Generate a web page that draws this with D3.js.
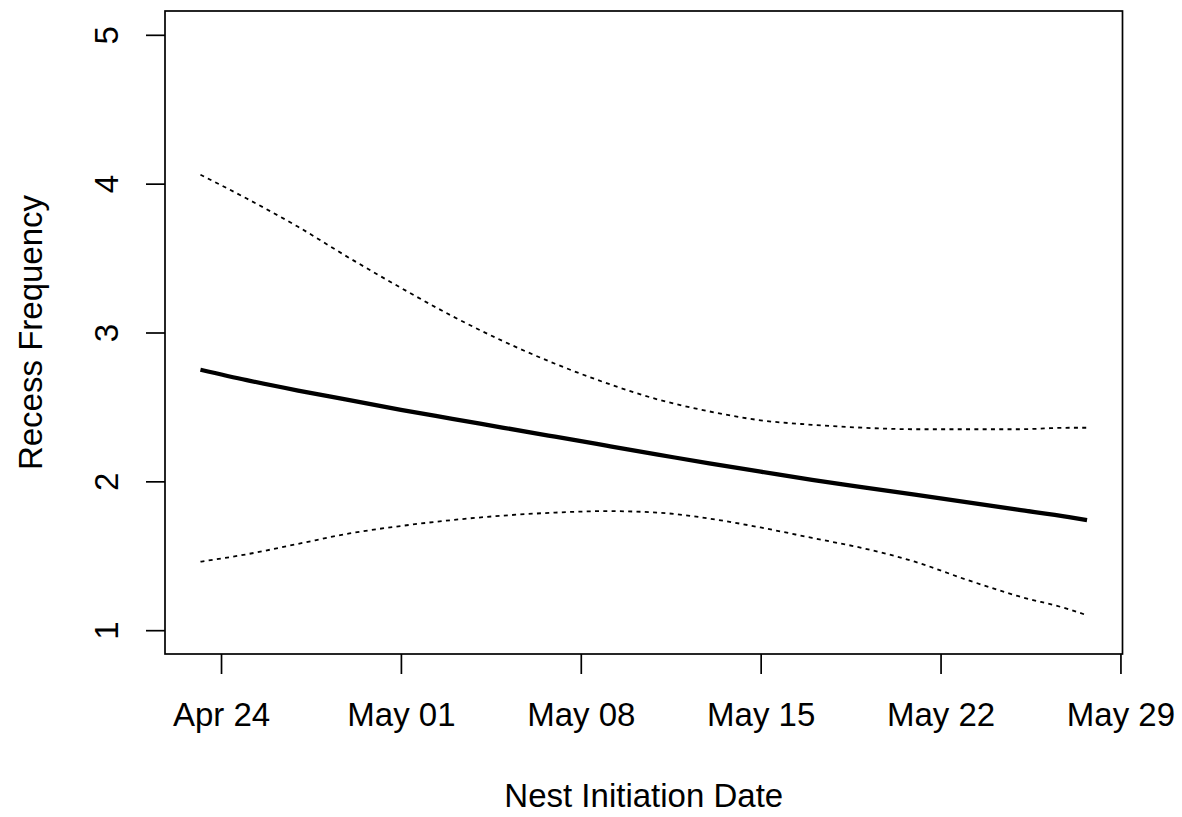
<!DOCTYPE html>
<html>
<head>
<meta charset="utf-8">
<script src="https://cdn.jsdelivr.net/npm/d3@7"></script>
<style>
  body { margin: 0; background: #fff; }
  svg text { font-family: "Liberation Sans", Arial, sans-serif; fill: #000; }
</style>
</head>
<body>
<svg id="chart" width="1182" height="817"></svg>
<script>
// Days after Apr 24 at which the model curve was evaluated
const dayOffsets = [-0.8, 1, 3, 5, 7, 9, 11, 13, 15, 17, 19, 21, 23, 25, 27, 29, 31, 33, 33.7];
// Predicted recess frequency and its confidence band
const fitted  = [2.75, 2.68, 2.61, 2.545, 2.48, 2.42, 2.36, 2.30, 2.24, 2.18, 2.12, 2.065, 2.01, 1.96, 1.91, 1.86, 1.81, 1.76, 1.74];
const upperCI = [4.06, 3.90, 3.71, 3.50, 3.30, 3.11, 2.94, 2.79, 2.66, 2.55, 2.47, 2.41, 2.38, 2.36, 2.35, 2.35, 2.35, 2.36, 2.36];
const lowerCI = [1.46, 1.51, 1.58, 1.65, 1.70, 1.74, 1.77, 1.79, 1.80, 1.79, 1.75, 1.69, 1.62, 1.55, 1.46, 1.34, 1.23, 1.14, 1.10];
// Axis ticks
const xTickDays = [0, 7, 14, 21, 28, 35];
const xTickLabels = ["Apr 24", "May 01", "May 08", "May 15", "May 22", "May 29"];
const yTicks = [1, 2, 3, 4, 5];
const yLimits = [1, 5];

const DAY = 86400000;
const origin = Date.UTC(2016, 3, 24);
const toDate = d => new Date(origin + d * DAY);

const box = { left: 165, right: 1122.5, top: 11, bottom: 654 };
const FONT = 33;

// Axis limits padded by 4% on each side, as in base graphics
const pad = ([a, b]) => [a - 0.04 * (b - a), b + 0.04 * (b - a)];
const xExt = pad(d3.extent(dayOffsets));
const yExt = pad(yLimits);

const x = d3.scaleUtc().domain(xExt.map(toDate)).range([box.left, box.right]);
const y = d3.scaleLinear().domain(yExt).range([box.bottom, box.top]);

const svg = d3.select("#chart");

const rows = dayOffsets.map((d, i) => ({
  date: toDate(d), fit: fitted[i], hi: upperCI[i], lo: lowerCI[i]
}));

// Confidence limits (dotted) and fitted curve (thick)
const lineOf = key => d3.line().curve(d3.curveMonotoneX).x(d => x(d.date)).y(d => y(d[key]));

svg.append("g").selectAll("path.ci")
  .data(["hi", "lo"])
  .join("path")
  .attr("class", "ci")
  .attr("d", k => lineOf(k)(rows))
  .attr("fill", "none")
  .attr("stroke", "#000")
  .attr("stroke-width", 1.8)
  .attr("stroke-dasharray", "4,4.3");

svg.append("path")
  .attr("d", lineOf("fit")(rows))
  .attr("fill", "none")
  .attr("stroke", "#000")
  .attr("stroke-width", 4.3)
  .attr("stroke-linejoin", "round");

// Plot frame
svg.append("rect")
  .attr("x", box.left).attr("y", box.top)
  .attr("width", box.right - box.left).attr("height", box.bottom - box.top)
  .attr("fill", "none").attr("stroke", "#000").attr("stroke-width", 1.7);

// Bottom axis
const xAxis = d3.axisBottom(x)
  .tickValues(xTickDays.map(toDate))
  .tickFormat((d, i) => xTickLabels[i])
  .tickSize(20).tickSizeOuter(0);

const gx = svg.append("g")
  .attr("transform", `translate(0,${box.bottom})`)
  .call(xAxis);
gx.select(".domain").remove();
gx.selectAll(".tick line").attr("stroke", "#000").attr("stroke-width", 1.7);
gx.selectAll(".tick text")
  .attr("y", 72).attr("dy", 0)
  .style("font-size", FONT + "px")
  .attr("fill", "#000");

// Left axis with rotated labels
const yAxis = d3.axisLeft(y).tickValues(yTicks).tickFormat(d3.format("d")).tickSize(19).tickSizeOuter(0);
const gy = svg.append("g")
  .attr("transform", `translate(${box.left},0)`)
  .call(yAxis);
gy.select(".domain").remove();
gy.selectAll(".tick line").attr("stroke", "#000").attr("stroke-width", 1.7);
gy.selectAll(".tick text")
  .attr("transform", "rotate(-90)")
  .attr("x", 0).attr("y", -47).attr("dy", 0)
  .attr("text-anchor", "middle")
  .style("font-size", FONT + "px")
  .attr("fill", "#000");

// Axis titles
svg.append("text")
  .attr("x", (box.left + box.right) / 2).attr("y", 806.5)
  .attr("text-anchor", "middle")
  .style("font-size", FONT + "px")
  .text("Nest Initiation Date");

svg.append("text")
  .attr("transform", `translate(42,${(box.top + box.bottom) / 2}) rotate(-90)`)
  .attr("text-anchor", "middle")
  .style("font-size", FONT + "px")
  .text("Recess Frequency");
</script>
</body>
</html>
